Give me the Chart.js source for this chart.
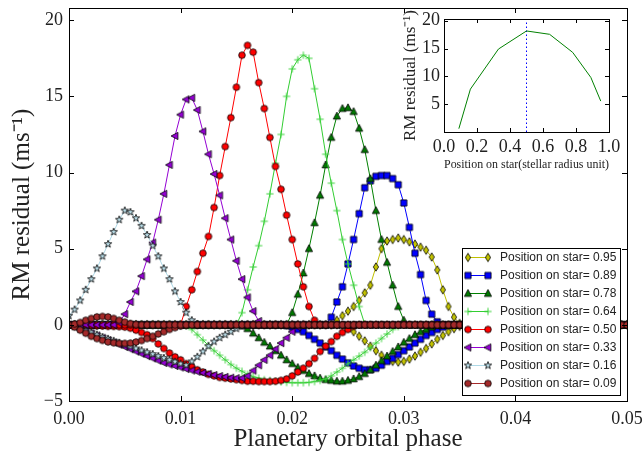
<!DOCTYPE html>
<html>
<head>
<meta charset="utf-8">
<script src="https://cdn.jsdelivr.net/npm/chart.js@4.4.0/dist/chart.umd.min.js"></script>
<style>
  html, body { margin: 0; padding: 0; background: #fff; }
  #wrap { position: relative; width: 644px; height: 452px; }
  #main { position: absolute; left: 0; top: 0; }
  #inset { position: absolute; left: 390px; top: 0; }
</style>
</head>
<body>
<div id="wrap">
  <canvas id="main" width="644" height="452"></canvas>
  <canvas id="inset" width="254" height="180"></canvas>
</div>
<script>
// planetary orbital phase grid (x of every point)
const phase = [
  0, 0.0005, 0.001, 0.0015, 0.002, 0.0025, 0.003, 0.0035, 0.004, 0.0045,
  0.005, 0.0055, 0.006, 0.0065, 0.007, 0.0075, 0.008, 0.0085, 0.009, 0.0095,
  0.01, 0.0105, 0.011, 0.0115, 0.012, 0.0125, 0.013, 0.0135, 0.014, 0.0145,
  0.015, 0.0155, 0.016, 0.0165, 0.017, 0.0175, 0.018, 0.0185, 0.019, 0.0195,
  0.02, 0.0205, 0.021, 0.0215, 0.022, 0.0225, 0.023, 0.0235, 0.024, 0.0245,
  0.025, 0.0255, 0.026, 0.0265, 0.027, 0.0275, 0.028, 0.0285, 0.029, 0.0295,
  0.03, 0.0305, 0.031, 0.0315, 0.032, 0.0325, 0.033, 0.0335, 0.034, 0.0345,
  0.035, 0.0355, 0.036, 0.0365, 0.037, 0.0375, 0.038, 0.0385, 0.039, 0.0395,
  0.04, 0.0405, 0.041, 0.0415, 0.042, 0.0425, 0.043, 0.0435, 0.044, 0.0445,
  0.045, 0.0455, 0.046, 0.0465, 0.047, 0.0475, 0.048, 0.0485, 0.049, 0.0495,
  0.05
];

// spot positions on the star (legend order)
const positions = ['0.95', '0.89', '0.78', '0.64', '0.50', '0.33', '0.16', '0.09'];

// RM residual (m/s), positive pass (b..) and negative pass (d..) for each position
const b95 = [
  0,0,0,0,0,0,0,0,0,0, 0,0,0,0,0,0,0,0,0,0, 0,0,0,0,0,0,0,0,0,0, 0,0,0,0,0,0,0,0,0,0,
  0,0,0,0,0,0,0,0,0.3,0.6, 0.9,1.2,1.6,2.1,2.6,3.8,5.0,5.5,5.6,5.7,
  5.6,5.45,5.3,5.1,4.9,4.45,3.6,2.3,1.2,0.5, 0.1,0,0,0,0,0,0,0,0,0,
  0,0,0,0,0,0,0,0,0,0, 0,0,0,0,0,0,0,0,0,0, 0
];
const d95 = [
  0,0,0,0,0,0,0,0,0,0, 0,0,0,0,0,0,0,0,0,0, 0,0,0,0,0,0,0,0,0,0, 0,0,0,0,0,0,0,0,0,0,
  0,0,0,0,0,0,0,0,0,-0.05, -0.2,-0.45,-0.75,-1.05,-1.4,-1.7,-2.0,-2.25,-2.4,-2.45,
  -2.4,-2.25,-2.05,-1.8,-1.55,-1.25,-0.95,-0.7,-0.45,-0.25, -0.1,0,0,0,0,0,0,0,0,0,
  0,0,0,0,0,0,0,0,0,0, 0,0,0,0,0,0,0,0,0,0, 0
];
const b89 = [
  0,0,0,0,0,0,0,0,0,0, 0,0,0,0,0,0,0,0,0,0, 0,0,0,0,0,0,0,0,0,0, 0,0,0,0,0,0,0,0,0,0,
  0,0,0,0,0,0,0,0.5,1.5,2.5, 4.0,5.6,7.3,9.0,9.45,9.75,9.8,9.8,9.6,9.2,
  8.0,6.4,4.7,3.3,1.6,0.7,0.2,0,0,0, 0,0,0,0,0,0,0,0,0,0,
  0,0,0,0,0,0,0,0,0,0, 0,0,0,0,0,0,0,0,0,0, 0
];
const d89 = [
  0,0,0,0,0,0,0,0,0,0, 0,0,0,0,0,0,0,0,0,0, 0,0,0,0,0,0,0,0,0,0, 0,0,0,0,0,0,0,0,0,-0.05,
  -0.15,-0.3,-0.45,-0.7,-0.95,-1.2,-1.45,-1.7,-2.0,-2.25, -2.5,-2.7,-2.85,-2.95,-2.95,-2.85,-2.65,-2.4,-2.2,-1.95,
  -1.7,-1.45,-1.2,-0.95,-0.7,-0.5,-0.3,-0.15,-0.05,0, 0,0,0,0,0,0,0,0,0,0,
  0,0,0,0,0,0,0,0,0,0, 0,0,0,0,0,0,0,0,0,0, 0
];
const b78 = [
  0,0,0,0,0,0,0,0,0,0, 0,0,0,0,0,0,0,0,0,0, 0,0,0,0,0,0,0,0,0,0, 0,0,0,0,0,0,0,0,0,0,
  0.8,2.0,3.4,5.0,6.7,8.5,10.5,12.3,13.7,14.2, 14.25,14.0,12.9,11.5,9.6,7.5,5.6,4.1,2.6,1.2,
  0.3,0,0,0,0,0,0,0,0,0, 0,0,0,0,0,0,0,0,0,0,
  0,0,0,0,0,0,0,0,0,0, 0,0,0,0,0,0,0,0,0,0, 0
];
const d78 = [
  0,0,0,0,0,0,0,0,0,0, 0,0,0,0,0,0,0,0,0,0, 0,0,0,0,0,0,0,0,0,0,
  0,-0.05,-0.25,-0.55,-0.85,-1.15,-1.4,-1.7,-2.0,-2.3,
  -2.55,-2.8,-3.0,-3.2,-3.35,-3.5,-3.6,-3.65,-3.7,-3.7, -3.65,-3.55,-3.4,-3.2,-2.95,-2.65,-2.35,-2.05,-1.75,-1.45,
  -1.15,-0.9,-0.65,-0.45,-0.3,-0.15,-0.05,0,0,0, 0,0,0,0,0,0,0,0,0,0,
  0,0,0,0,0,0,0,0,0,0, 0,0,0,0,0,0,0,0,0,0, 0
];
const b64 = [
  0,0,0,0,0,0,0,0,0,0, 0,0,0,0,0,0,0,0,0,0, 0,0,0,0,0,0,0,0,0,0,
  0,0.8,2.3,3.8,5.2,6.8,8.6,10.6,12.5,15.0,
  16.8,17.4,17.7,17.5,15.5,13.5,11.2,9.3,7.5,5.6, 4.0,2.6,1.2,0.05,0,0,0,0,0,0,
  0,0,0,0,0,0,0,0,0,0, 0,0,0,0,0,0,0,0,0,0,
  0,0,0,0,0,0,0,0,0,0, 0,0,0,0,0,0,0,0,0,0, 0
];
const d64 = [
  0,0,0,0,0,0,0,0,0,0, 0,0,0,0,0,0,0,0,0,0,
  0,-0.05,-0.3,-0.65,-1.0,-1.35,-1.7,-2.0,-2.3,-2.6,
  -2.85,-3.05,-3.25,-3.4,-3.5,-3.6,-3.65,-3.7,-3.75,-3.78,
  -3.8,-3.8,-3.8,-3.78,-3.72,-3.65,-3.55,-3.35,-3.1,-2.85, -2.55,-2.3,-2.05,-1.8,-1.5,-1.2,-0.9,-0.6,-0.3,-0.12,
  0,0,0,0,0,0,0,0,0,0, 0,0,0,0,0,0,0,0,0,0,
  0,0,0,0,0,0,0,0,0,0, 0,0,0,0,0,0,0,0,0,0, 0
];
const b50 = [
  0,0,0,0,0,0,0,0,0,0, 0,0,0,0,0,0,0,0,0,0,
  0,1.2,2.3,3.5,4.7,5.8,7.7,9.8,11.7,13.6,
  15.6,17.7,18.35,17.9,15.9,14.2,12.3,10.4,8.9,7.2,
  5.6,4.0,2.5,1.2,0.3,0,0,0,0,0, 0,0,0,0,0,0,0,0,0,0,
  0,0,0,0,0,0,0,0,0,0, 0,0,0,0,0,0,0,0,0,0,
  0,0,0,0,0,0,0,0,0,0, 0,0,0,0,0,0,0,0,0,0, 0
];
const d50 = [
  0,0,-0.02,-0.03,-0.05,-0.07,-0.08,-0.1,-0.1,-0.12,
  -0.15,-0.22,-0.35,-0.5,-0.65,-0.9,-1.25,-1.55,-1.85,-2.1,
  -2.3,-2.55,-2.75,-2.95,-3.1,-3.25,-3.35,-3.45,-3.5,-3.55,
  -3.6,-3.65,-3.7,-3.7,-3.72,-3.72,-3.72,-3.7,-3.65,-3.55,
  -3.35,-3.1,-2.85,-2.55,-2.2,-1.75,-1.4,-1.1,-0.75,-0.5, -0.3,-0.1,0,0,0,0,0,0,0,0,
  0,0,0,0,0,0,0,0,0,0, 0,0,0,0,0,0,0,0,0,0,
  0,0,0,0,0,0,0,0,0,0, 0,0,0,0,0,0,0,0,0,0, 0
];
const b33 = [
  0,0,0,0,0,0,0,0,0,0.15, 0.7,1.5,2.2,3.2,4.3,5.4,6.9,8.6,10.5,12.4,
  13.8,14.8,14.9,14.1,12.7,11.2,9.9,8.5,7.0,5.6, 4.2,3.0,1.8,0.9,0.25,0,0,0,0,0,
  0,0,0,0,0,0,0,0,0,0, 0,0,0,0,0,0,0,0,0,0, 0,0,0,0,0,0,0,0,0,0, 0,0,0,0,0,0,0,0,0,0,
  0,0,0,0,0,0,0,0,0,0, 0,0,0,0,0,0,0,0,0,0, 0
];
const d33 = [
  0,-0.12,-0.25,-0.4,-0.55,-0.7,-0.85,-1.0,-1.15,-1.3,
  -1.45,-1.6,-1.75,-1.9,-2.05,-2.2,-2.35,-2.5,-2.6,-2.7,
  -2.8,-2.9,-3.0,-3.08,-3.15,-3.22,-3.3,-3.36,-3.42,-3.47,
  -3.5,-3.5,-3.35,-3.0,-2.65,-2.3,-2.0,-1.6,-1.2,-0.85,
  -0.45,-0.15,0,0,0,0,0,0,0,0, 0,0,0,0,0,0,0,0,0,0,
  0,0,0,0,0,0,0,0,0,0, 0,0,0,0,0,0,0,0,0,0,
  0,0,0,0,0,0,0,0,0,0, 0,0,0,0,0,0,0,0,0,0, 0
];
const b16 = [
  0.6,1.0,1.6,2.3,3.0,3.7,4.5,5.3,6.1,6.9, 7.5,7.4,7.0,6.5,5.9,5.2,4.5,3.7,3.0,2.2,
  1.5,0.8,0.3,0.05,0,0,0,0,0,0, 0,0,0,0,0,0,0,0,0,0,
  0,0,0,0,0,0,0,0,0,0, 0,0,0,0,0,0,0,0,0,0, 0,0,0,0,0,0,0,0,0,0, 0,0,0,0,0,0,0,0,0,0,
  0,0,0,0,0,0,0,0,0,0, 0,0,0,0,0,0,0,0,0,0, 0
];
const d16 = [
  0,-0.12,-0.25,-0.38,-0.5,-0.65,-0.8,-0.92,-1.05,-1.18,
  -1.3,-1.42,-1.55,-1.68,-1.8,-1.92,-2.05,-2.18,-2.3,-2.42,
  -2.55,-2.65,-2.4,-2.1,-1.75,-1.4,-1.1,-0.85,-0.65,-0.45,
  -0.25,-0.1,0,0,0,0,0,0,0,0,
  0,0,0,0,0,0,0,0,0,0, 0,0,0,0,0,0,0,0,0,0, 0,0,0,0,0,0,0,0,0,0, 0,0,0,0,0,0,0,0,0,0,
  0,0,0,0,0,0,0,0,0,0, 0,0,0,0,0,0,0,0,0,0, 0
];
const b09 = [
  0,0.05,0.15,0.3,0.42,0.52,0.55,0.52,0.42,0.3, 0.18,0.08,0.02,0,0,0,0,0,0,0,
  0,0,0,0,0,0,0,0,0,0, 0,0,0,0,0,0,0,0,0,0,
  0,0,0,0,0,0,0,0,0,0, 0,0,0,0,0,0,0,0,0,0, 0,0,0,0,0,0,0,0,0,0, 0,0,0,0,0,0,0,0,0,0,
  0,0,0,0,0,0,0,0,0,0, 0,0,0,0,0,0,0,0,0,0, 0
];
const d09 = [
  0,-0.15,-0.35,-0.55,-0.75,-0.9,-1.02,-1.12,-1.18,-1.22,
  -1.22,-1.2,-1.13,-1.03,-0.9,-0.75,-0.6,-0.45,-0.3,-0.18,
  -0.08,-0.02,0,0,0,0,0,0,0,0, 0,0,0,0,0,0,0,0,0,0,
  0,0,0,0,0,0,0,0,0,0, 0,0,0,0,0,0,0,0,0,0, 0,0,0,0,0,0,0,0,0,0, 0,0,0,0,0,0,0,0,0,0,
  0,0,0,0,0,0,0,0,0,0, 0,0,0,0,0,0,0,0,0,0, 0
];

// inset: peak residual vs position on star
const insetPos = [0.09, 0.16, 0.33, 0.50, 0.64, 0.78, 0.89, 0.95];
const insetPeak = [0.6, 7.7, 14.9, 18.15, 17.55, 14.3, 9.8, 5.55];

const bumps = [b95, b89, b78, b64, b50, b33, b16, b09];
const dips = [d95, d89, d78, d64, d50, d33, d16, d09];

// styles
const lineColors = ['#bfbf00', '#0000ff', '#008000', '#32cd32', '#ff0000', '#9400d3', '#add8e6', '#a52a2a'];
const fillColors = ['#c4c400', '#0000ff', '#007a00', '#3cd23c', '#ff0000', '#9400d3', '#b8dbe6', '#a52a2a'];
const shapes = ['thinDiamond', 'square', 'triUp', 'plus', 'circle', 'triLeft', 'star', 'circle'];

const serif = '"Liberation Serif", "Times New Roman", serif';
const sans = '"Liberation Sans", Arial, sans-serif';

function makeMarker(shape, fill) {
  const s = 12;
  const c = document.createElement('canvas');
  c.width = s; c.height = s;
  const g = c.getContext('2d');
  g.translate(s / 2, s / 2);
  g.fillStyle = fill;
  g.strokeStyle = '#000';
  g.lineWidth = 0.8;
  g.beginPath();
  if (shape === 'circle') {
    g.arc(0, 0, 3.3, 0, Math.PI * 2);
  } else if (shape === 'square') {
    g.rect(-3.1, -3.1, 6.2, 6.2);
  } else if (shape === 'triUp') {
    g.moveTo(0, -4); g.lineTo(3.6, 2.9); g.lineTo(-3.6, 2.9); g.closePath();
  } else if (shape === 'triLeft') {
    g.moveTo(-4, 0); g.lineTo(2.9, -3.6); g.lineTo(2.9, 3.6); g.closePath();
  } else if (shape === 'thinDiamond') {
    g.moveTo(0, -4.2); g.lineTo(2.6, 0); g.lineTo(0, 4.2); g.lineTo(-2.6, 0); g.closePath();
  } else if (shape === 'star') {
    for (let k = 0; k < 10; k++) {
      const r = k % 2 ? 1.6 : 3.9;
      const a = -Math.PI / 2 + k * Math.PI / 5;
      if (k === 0) g.moveTo(r * Math.cos(a), r * Math.sin(a));
      else g.lineTo(r * Math.cos(a), r * Math.sin(a));
    }
    g.closePath();
  } else if (shape === 'plus') {
    g.moveTo(-3.6, 0); g.lineTo(3.6, 0);
    g.moveTo(0, -3.6); g.lineTo(0, 3.6);
    g.strokeStyle = fill;
    g.lineWidth = 1;
    g.stroke();
    return c;
  }
  g.fill();
  g.stroke();
  return c;
}

const markers = shapes.map((s, i) => makeMarker(s, fillColors[i]));

const toPoints = arr => phase.map((p, i) => ({ x: p, y: arr[i] }));

const datasets = [];
positions.forEach((pos, i) => {
  [bumps[i], dips[i]].forEach(arr => {
    datasets.push({
      label: 'Position on star= ' + pos,
      data: toPoints(arr),
      showLine: true,
      borderColor: lineColors[i],
      backgroundColor: fillColors[i],
      borderWidth: 1,
      pointStyle: markers[i],
      pointRadius: 3,
      order: positions.length - 1 - i
    });
  });
});

// keep the plot box where the layout padding puts it
const noLabelPadding = s => {
  s.paddingTop = 0; s.paddingBottom = 0;
  s.paddingLeft = 0; s.paddingRight = 0;
};

// frame with inward ticks on all four sides
const frameTicks = {
  id: 'frameTicks',
  afterDatasetsDraw(chart, args, opts) {
    const { ctx, chartArea: a, scales } = chart;
    const len = opts.len || 5;
    ctx.save();
    ctx.strokeStyle = '#000';
    ctx.lineWidth = 1;
    ctx.beginPath();
    scales.x.ticks.forEach(t => {
      const px = Math.round(scales.x.getPixelForValue(t.value)) + 0.5;
      ctx.moveTo(px, a.bottom); ctx.lineTo(px, a.bottom - len);
      ctx.moveTo(px, a.top); ctx.lineTo(px, a.top + len);
    });
    scales.y.ticks.forEach(t => {
      const py = Math.round(scales.y.getPixelForValue(t.value)) + 0.5;
      ctx.moveTo(a.left, py); ctx.lineTo(a.left + len, py);
      ctx.moveTo(a.right, py); ctx.lineTo(a.right - len, py);
    });
    ctx.stroke();
    ctx.strokeRect(Math.round(a.left) + 0.5, Math.round(a.top) + 0.5,
      Math.round(a.right - a.left), Math.round(a.bottom - a.top));
    ctx.restore();
  }
};

// legend box in the lower right corner of the plot
const boxLegend = {
  id: 'boxLegend',
  afterDraw(chart) {
    const { ctx, chartArea: a } = chart;
    const w = 158, h = 147, rowH = 18;
    const x0 = a.right - 7 - w, y0 = a.bottom - 6 - h;
    ctx.save();
    ctx.fillStyle = '#fff';
    ctx.fillRect(x0, y0, w, h);
    ctx.strokeStyle = '#000';
    ctx.lineWidth = 1;
    ctx.strokeRect(Math.round(x0) + 0.5, Math.round(y0) + 0.5, w, h);
    ctx.font = '12px ' + sans;
    ctx.textBaseline = 'middle';
    positions.forEach((pos, i) => {
      const cy = y0 + 9.5 + i * rowH;
      ctx.strokeStyle = lineColors[i];
      ctx.lineWidth = 1;
      ctx.beginPath();
      ctx.moveTo(x0 + 6, cy); ctx.lineTo(x0 + 26, cy);
      ctx.stroke();
      const m = markers[i];
      ctx.drawImage(m, x0 + 6 - m.width / 2, cy - m.height / 2);
      ctx.drawImage(m, x0 + 26 - m.width / 2, cy - m.height / 2);
      ctx.fillStyle = '#222';
      ctx.fillText('Position on star= ' + pos, x0 + 38, cy + 0.5);
    });
    ctx.restore();
  }
};

new Chart(document.getElementById('main'), {
  type: 'scatter',
  data: { datasets },
  plugins: [frameTicks, boxLegend],
  options: {
    responsive: false,
    animation: false,
    devicePixelRatio: 1,
    layout: { padding: { left: 0, top: 8, right: 17, bottom: 0 } },
    plugins: {
      legend: { display: false },
      tooltip: { enabled: false },
      frameTicks: { len: 5 }
    },
    scales: {
      x: {
        type: 'linear',
        min: 0,
        max: 0.05,
        afterFit: s => { s.height = 51; noLabelPadding(s); },
        grid: { display: false, drawTicks: false },
        border: { display: false },
        ticks: {
          stepSize: 0.01,
          includeBounds: false,
          padding: 7,
          maxRotation: 0,
          autoSkip: false,
          color: '#222',
          font: { family: serif, size: 18 },
          callback: v => v.toFixed(2)
        },
        title: {
          display: true,
          text: 'Planetary orbital phase',
          color: '#222',
          font: { family: serif, size: 25, lineHeight: 1 },
          padding: { top: 0, bottom: 0 }
        }
      },
      y: {
        type: 'linear',
        min: -5,
        max: 20.8,
        afterFit: s => { s.width = 69; noLabelPadding(s); },
        grid: { display: false, drawTicks: false },
        border: { display: false },
        ticks: {
          stepSize: 5,
          includeBounds: false,
          padding: 6,
          color: '#222',
          font: { family: serif, size: 18 },
          callback: v => String(v).replace('-', '\u2212')
        },
        title: {
          display: true,
          text: 'RM residual (ms\u207B\u00B9)',
          color: '#222',
          font: { family: serif, size: 25, lineHeight: 1 },
          padding: { top: 10, bottom: 0 }
        }
      }
    }
  }
});

new Chart(document.getElementById('inset'), {
  type: 'scatter',
  data: {
    datasets: [
      {
        data: insetPos.map((p, i) => ({ x: p, y: insetPeak[i] })),
        showLine: true,
        borderColor: '#008000',
        borderWidth: 1,
        pointRadius: 0
      },
      {
        data: [{ x: 0.5, y: 0 }, { x: 0.5, y: 20.3 }],
        showLine: true,
        borderColor: '#0000ff',
        borderWidth: 1,
        borderDash: [1.5, 2.5],
        pointRadius: 0
      }
    ]
  },
  plugins: [frameTicks],
  options: {
    responsive: false,
    animation: false,
    devicePixelRatio: 1,
    layout: { padding: { left: 0, top: 19, right: 35, bottom: 0 } },
    plugins: {
      legend: { display: false },
      tooltip: { enabled: false },
      frameTicks: { len: 4 }
    },
    scales: {
      x: {
        type: 'linear',
        min: 0,
        max: 1,
        afterFit: s => { s.height = 48; noLabelPadding(s); },
        grid: { display: false, drawTicks: false },
        border: { display: false },
        ticks: {
          stepSize: 0.2,
          includeBounds: false,
          padding: 4,
          maxRotation: 0,
          autoSkip: false,
          color: '#222',
          font: { family: serif, size: 18 },
          callback: v => v.toFixed(1)
        },
        title: {
          display: true,
          text: 'Position on star(stellar radius unit)',
          color: '#222',
          font: { family: serif, size: 12.5, lineHeight: 1 },
          padding: { top: 0, bottom: 9 }
        }
      },
      y: {
        type: 'linear',
        min: 0,
        max: 20.3,
        afterFit: s => { s.width = 54; noLabelPadding(s); },
        grid: { display: false, drawTicks: false },
        border: { display: false },
        ticks: {
          stepSize: 5,
          includeBounds: false,
          padding: 4,
          color: '#222',
          font: { family: serif, size: 18 },
          callback: v => (v === 0 ? '' : String(v))
        },
        title: {
          display: true,
          text: 'RM residual (ms\u207B\u00B9)',
          color: '#222',
          font: { family: serif, size: 17, lineHeight: 1 },
          padding: { top: 12, bottom: 0 }
        }
      }
    }
  }
});
</script>
</body>
</html>
